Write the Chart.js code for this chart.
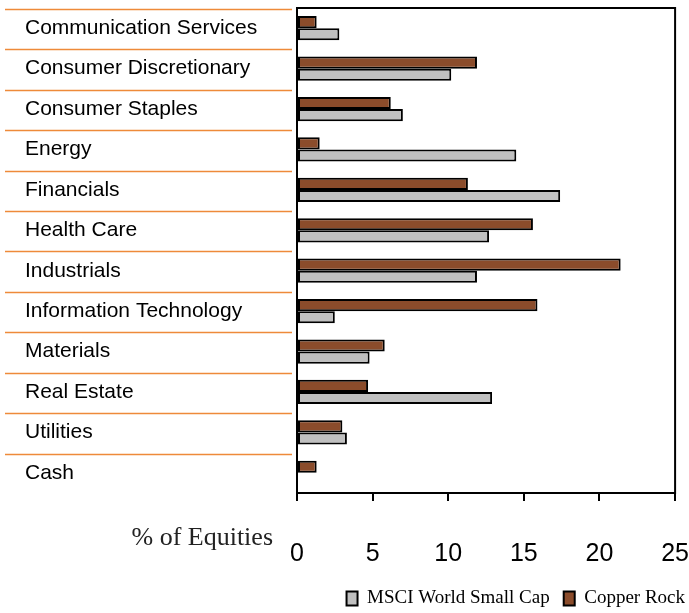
<!DOCTYPE html>
<html>
<head>
<meta charset="utf-8">
<script src="https://cdn.jsdelivr.net/npm/chart.js@4.4.1/dist/chart.umd.min.js"></script>
<style>
  html, body { margin: 0; padding: 0; background: #ffffff; }
  #wrap { width: 689px; height: 613px; position: relative; }
</style>
</head>
<body>
<div id="wrap"><canvas id="c" width="689" height="613"></canvas></div>
<script>
const categories = ['Communication Services', 'Consumer Discretionary', 'Consumer Staples', 'Energy',
  'Financials', 'Health Care', 'Industrials', 'Information Technology', 'Materials',
  'Real Estate', 'Utilities', 'Cash'];
const copperRock = [1.3, 11.9, 6.2, 1.5, 11.3, 15.6, 21.4, 15.9, 5.8, 4.7, 3.0, 1.3];
const msciWorldSmallCap = [2.8, 10.2, 7.0, 14.5, 17.4, 12.7, 11.9, 2.5, 4.8, 12.9, 3.3, 0];
const xTicks = [0, 5, 10, 15, 20, 25];
const axisTitle = '% of Equities';

const SERIF = '"Liberation Serif", "Times New Roman", serif';
const SANS = '"Liberation Sans", Arial, sans-serif';

const decor = {
  id: 'decor',
  beforeDatasetsDraw(chart) {
    const ctx = chart.ctx;
    const y = chart.scales.y;
    const x = chart.scales.x;
    const step = y.getPixelForValue(1) - y.getPixelForValue(0);
    ctx.save();
    ctx.strokeStyle = '#EE8A3A';
    ctx.lineWidth = 1.5;
    for (let i = 0; i < categories.length; i++) {
      const py = Math.round(y.getPixelForValue(i) - step / 2) + 1.5;
      ctx.beginPath();
      ctx.moveTo(5, py);
      ctx.lineTo(x.left - 5, py);
      ctx.stroke();
    }
    ctx.restore();
  },
  afterDatasetsDraw(chart) {
    const ctx = chart.ctx;
    const a = chart.chartArea;
    const x = chart.scales.x;
    ctx.save();
    ctx.strokeStyle = '#000';
    ctx.lineWidth = 2;
    ctx.strokeRect(a.left, a.top, a.right - a.left, a.bottom - a.top);
    ctx.fillStyle = '#222';
    ctx.font = '26px ' + SERIF;
    ctx.textAlign = 'right';
    ctx.textBaseline = 'alphabetic';
    ctx.fillText(axisTitle, x.left - 24, 545);
    ctx.restore();
  }
};

new Chart(document.getElementById('c'), {
  type: 'bar',
  data: {
    labels: categories,
    datasets: [
      { label: 'Copper Rock', data: copperRock, backgroundColor: '#8B4C2B',
        borderColor: '#000', borderWidth: 2, borderSkipped: false,
        categoryPercentage: 0.6, barPercentage: 1.0 },
      { label: 'MSCI World Small Cap', data: msciWorldSmallCap, backgroundColor: '#C0C0C0',
        borderColor: '#000', borderWidth: 2, borderSkipped: false,
        categoryPercentage: 0.6, barPercentage: 1.0 }
    ]
  },
  options: {
    indexAxis: 'y',
    responsive: false,
    animation: false,
    devicePixelRatio: 1,
    layout: { padding: { top: 8, left: 25, right: -10, bottom: -5 } },
    scales: {
      x: {
        min: 0, max: 25,
        afterBuildTicks(scale) { scale.ticks = xTicks.map(v => ({ value: v })); },
        grid: { drawOnChartArea: false, drawTicks: true, tickLength: 8, color: '#000', lineWidth: 2 },
        border: { display: true, color: '#000', width: 2 },
        ticks: { color: '#000', padding: 0, font: { family: SANS, size: 25, lineHeight: '106px' }, maxRotation: 0 },
        afterFit(scale) { scale.height = 82; }
      },
      y: {
        grid: { display: false },
        border: { display: true, color: '#000', width: 2 },
        ticks: { color: '#000', crossAlign: 'far', font: { family: SANS, size: 21, lineHeight: '16px' }, padding: 0 },
        afterFit(scale) { scale.width = 272; }
      }
    },
    plugins: {
      tooltip: { enabled: false },
      legend: {
        position: 'bottom',
        align: 'end',
        reverse: true,
        labels: {
          color: '#000',
          boxWidth: 11,
          boxHeight: 14,
          padding: 14,
          font: { family: SERIF, size: 19 }
        }
      }
    }
  },
  plugins: [decor]
});
</script>
</body>
</html>
